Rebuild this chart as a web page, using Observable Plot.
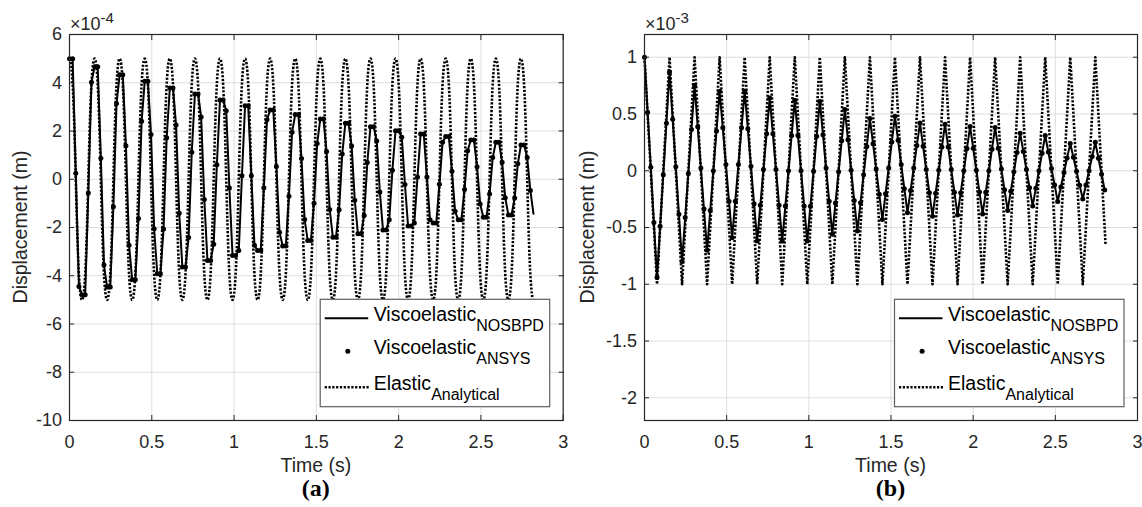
<!DOCTYPE html>
<html>
<head>
<meta charset="utf-8">
<script src="https://cdn.jsdelivr.net/npm/d3@7"></script>
<script src="https://cdn.jsdelivr.net/npm/@observablehq/plot@0.6"></script>
<style>
  body { margin: 0; background: #fff; }
  #wrap { position: relative; width: 1142px; height: 507px; overflow: hidden; background: #fff; }
  #wrap svg { position: absolute; top: 0; }
</style>
</head>
<body>
<div id="wrap"></div>
<script>
// ---------------- data ----------------
const DT = 0.01905;     // time step of the ANSYS / NOSBPD output (s)
const HALF = 0.0762;    // half period of the elastic analytical solution (s)

const xTicks = [0, 0.5, 1, 1.5, 2, 2.5, 3];
const yTicksA = [-10, -8, -6, -4, -2, 0, 2, 4, 6];
const yTicksB = [-2, -1.5, -1, -0.5, 0, 0.5, 1];

// (a) displacement, units of 1e-4 m
const ansysA = [
  5, 5, 0.25, -4.45, -4.79, -4.79, -0.57, 4.02,
  4.66, 4.66, 0.87, -3.55, -4.47, -4.47, -1.14, 3.14,
  4.33, 4.33, 1.39, -2.74, -4.17, -4.17, -1.63, 2.40,
  4.06, 4.06, 1.86, -2.05, -3.92, -3.92, -2.06, 1.72,
  3.78, 3.78, 2.25, -1.41, -3.64, -3.64, -2.41, 1.12,
  3.53, 3.53, 2.58, -0.84, -3.37, -3.37, -2.69, 0.60,
  3.28, 3.28, 2.84, -0.36, -3.16, -3.16, -2.95, 0.14,
  3.05, 3.05, 0.15, -2.74, -2.95, -2.95, -0.35, 2.47,
  2.87, 2.87, 0.53, -2.20, -2.77, -2.77, -0.70, 1.95,
  2.68, 2.68, 0.86, -1.67, -2.54, -2.54, -0.99, 1.48,
  2.50, 2.50, 1.15, -1.25, -2.40, -2.40, -1.26, 1.05,
  2.32, 2.32, 1.38, -0.87, -2.26, -2.26, -1.50, 0.69,
  2.18, 2.18, 1.59, -0.53, -2.10, -2.10, -1.68, 0.37,
  2.01, 2.01, 1.74, -0.22, -1.94, -1.94, -1.81, 0.09,
  1.88, 1.88, 0.09, -1.68, -1.81, -1.81, -0.21, 1.53,
  1.77, 1.77, 0.33, -1.33, -1.68, -1.68, -0.43, 1.18,
  1.63, 1.63, 0.52, -1.03, -1.57, -1.57, -0.61, 0.90,
  1.53, 1.53, 0.70, -0.77, -1.48, -1.48, -0.78, 0.64,
  1.42, 1.42, 0.90, -0.47
];
const nosbpdTailA = [-1.43];
const elasticA = [
  5, -5, 5, -5, 5, -5, 5, -5, 5, -5, 5, -5, 5, -5, 5, -5, 5, -5, 5,
  -5, 5, -5, 5, -5, 5, -5, 5, -5, 5, -5, 5, -5, 5, -5, 5, -5, 5, -5
];

// (b) displacement, units of 1e-3 m
const ansysB = [
  1.00, 0.515, 0.03, -0.455,   -0.94, -0.488, -0.035, 0.418,
  0.87, 0.453, 0.035, -0.383,  -0.80, -0.413, -0.025, 0.363,
  0.75, 0.388, 0.025, -0.338,  -0.70, -0.35, 0.00, 0.35,
  0.70, 0.378, 0.055, -0.268,  -0.59, -0.268, 0.055, 0.378,
  0.70, 0.37, 0.04, -0.29,     -0.62, -0.305, 0.01, 0.325,
  0.64, 0.325, 0.01, -0.305,   -0.62, -0.31, 0.00, 0.31,
  0.62, 0.31, 0.00, -0.31,     -0.62, -0.313, -0.005, 0.303,
  0.61, 0.318, 0.025, -0.268,  -0.56, -0.285, -0.01, 0.265,
  0.54, 0.273, 0.005, -0.263,  -0.53, -0.283, -0.035, 0.213,
  0.46, 0.238, 0.015, -0.208,  -0.43, -0.203, 0.025, 0.253,
  0.48, 0.268, 0.055, -0.158,  -0.37, -0.173, 0.025, 0.223,
  0.42, 0.215, 0.01, -0.195,   -0.40, -0.198, 0.005, 0.208,
  0.41, 0.21, 0.01, -0.19,     -0.39, -0.195, 0.00, 0.195,
  0.39, 0.198, 0.005, -0.188,  -0.38, -0.19, 0.00, 0.19,
  0.38, 0.198, 0.015, -0.168,  -0.35, -0.18, -0.01, 0.16,
  0.33, 0.17, 0.01, -0.15,     -0.31, -0.155, 0.00, 0.155,
  0.31, 0.165, 0.02, -0.125,   -0.27, -0.143, -0.015, 0.113,
  0.24, 0.118, -0.005, -0.128, -0.25, -0.125, 0.00, 0.125,
  0.25, 0.11, -0.03, -0.17
];
const elasticB = [
  1, -1, 1, -1, 1, -1, 1, -1, 1, -1, 1, -1, 1, -1, 1, -1, 1, -1, 1,
  -1, 1, -1, 1, -1, 1, -1, 1, -1, 1, -1, 1, -1, 1, -1, 1, -1, 1
];
const elasticEndB = {t: 2.806, v: -0.66};

const legendNames = [
  ["Viscoelastic", "NOSBPD"],
  ["Viscoelastic", "ANSYS"],
  ["Elastic", "Analytical"]
];

// ---------------- drawing ----------------
const FONT = "Liberation Sans, Arial, Helvetica, sans-serif";
const INK = "#262626";
const DOTTED = "2.2,1.6";

function panel(cfg) {
  const W = 571, H = 507, MT = 34, MB = 87;
  const dots = cfg.ansys.map((v, i) => ({t: i * DT, v}));
  const line = cfg.ansys.concat(cfg.tail).map((v, i) => ({t: i * DT, v}));
  const elastic = cfg.elastic.map((v, i) => ({t: i * HALF, v})).concat(cfg.elasticEnd ? [cfg.elasticEnd] : []);
  const fmt = d => String(d);

  const svg = Plot.plot({
    width: W, height: H,
    marginLeft: cfg.ml, marginRight: cfg.mr, marginTop: MT, marginBottom: MB,
    style: {fontFamily: FONT, fontSize: "18px", color: INK, background: "transparent", overflow: "visible"},
    x: {domain: [0, 3]},
    y: {domain: cfg.yDomain},
    marks: [
      Plot.gridX(xTicks, {stroke: "#dedede", strokeOpacity: 1, strokeWidth: 1}),
      Plot.gridY(cfg.yTicks, {stroke: "#dedede", strokeOpacity: 1, strokeWidth: 1}),
      Plot.line(elastic, {x: "t", y: "v", curve: cfg.curve, stroke: "#000", strokeWidth: 2.6, strokeDasharray: DOTTED, strokeLinecap: "butt"}),
      Plot.line(line, {x: "t", y: "v", stroke: "#000", strokeWidth: 2}),
      Plot.dot(dots, {x: "t", y: "v", r: 2.5, fill: "#000", stroke: null}),
      Plot.frame({stroke: INK, strokeWidth: 1.2}),
      Plot.axisX({ticks: xTicks, anchor: "bottom", tickSize: -5, tickPadding: 20, tickFormat: fmt, label: null, stroke: INK}),
      Plot.axisX({ticks: xTicks, anchor: "top", tickSize: -5, tickFormat: () => "", label: null, stroke: INK}),
      Plot.axisY({ticks: cfg.yTicks, anchor: "left", tickSize: -5, tickPadding: 12.5, tickFormat: fmt, label: null, stroke: INK}),
      Plot.axisY({ticks: cfg.yTicks, anchor: "right", tickSize: -5, tickFormat: () => "", label: null, stroke: INK})
    ]
  });

  const s = d3.select(svg);
  const left = cfg.ml, right = W - cfg.mr, cx = (left + right) / 2;

  // exponent
  const ex = s.append("text").attr("x", left + 1).attr("y", 30).attr("text-anchor", "start")
    .attr("font-family", FONT).attr("font-size", 18).attr("fill", INK).text("\u00d710");
  ex.append("tspan").attr("dy", -7).attr("font-size", 15).text(cfg.exp);

  // axis labels
  s.append("text").attr("x", cx).attr("y", 472).attr("text-anchor", "middle")
    .attr("font-family", FONT).attr("font-size", 19.5).attr("fill", INK).text("Time (s)");
  s.append("text").attr("transform", `translate(${cfg.ylabX},227) rotate(-90)`).attr("text-anchor", "middle")
    .attr("font-family", FONT).attr("font-size", 19.5).attr("fill", INK).text("Displacement (m)");

  // panel tag
  s.append("text").attr("x", cx).attr("y", 496).attr("text-anchor", "middle")
    .attr("font-family", "Liberation Serif, Times New Roman, serif").attr("font-weight", "bold")
    .attr("font-size", 24).attr("fill", "#000").text(cfg.tag);

  // legend
  const lw = 229.5, lh = 107.4;
  const lx = right - 13 - lw, ly = H - MB - 13.3 - lh;
  const g = s.append("g").attr("text-anchor", "start");
  g.append("rect").attr("x", lx).attr("y", ly).attr("width", lw).attr("height", lh)
    .attr("fill", "#fff").attr("stroke", "#5f5f5f").attr("stroke-width", 1.2);
  const rows = [19, 52, 88];
  g.append("line").attr("x1", lx + 4.5).attr("x2", lx + 48).attr("y1", ly + rows[0]).attr("y2", ly + rows[0])
    .attr("stroke", "#000").attr("stroke-width", 2);
  g.append("circle").attr("cx", lx + 27.6).attr("cy", ly + rows[1]).attr("r", 2.5).attr("fill", "#000");
  g.append("line").attr("x1", lx + 4.5).attr("x2", lx + 49).attr("y1", ly + rows[2]).attr("y2", ly + rows[2])
    .attr("stroke", "#000").attr("stroke-width", 2.6).attr("stroke-dasharray", DOTTED);
  legendNames.forEach(([main, sub], i) => {
    const t = g.append("text").attr("x", lx + 53.5).attr("y", ly + rows[i] + 3).attr("text-anchor", "start")
      .attr("font-family", FONT).attr("font-size", 19.5).attr("fill", "#000").text(main);
    t.append("tspan").attr("dy", 9.5).attr("font-size", 16).text(sub);
  });

  svg.style.left = cfg.offset + "px";
  return svg;
}

const wrap = document.getElementById("wrap");
wrap.appendChild(panel({
  offset: 0, ml: 69, mr: 8.3, yDomain: [-10, 6], yTicks: yTicksA,
  ansys: ansysA, tail: nosbpdTailA, elastic: elasticA, elasticEnd: null, curve: "bump-x",
  exp: "-4", ylabX: 26.6, tag: "(a)"
}));
wrap.appendChild(panel({
  offset: 571, ml: 73, mr: 5, yDomain: [-2.2, 1.2], yTicks: yTicksB,
  ansys: ansysB, tail: [], elastic: elasticB, elasticEnd: elasticEndB, curve: "linear",
  exp: "-3", ylabX: 23.3, tag: "(b)"
}));
</script>
</body>
</html>
